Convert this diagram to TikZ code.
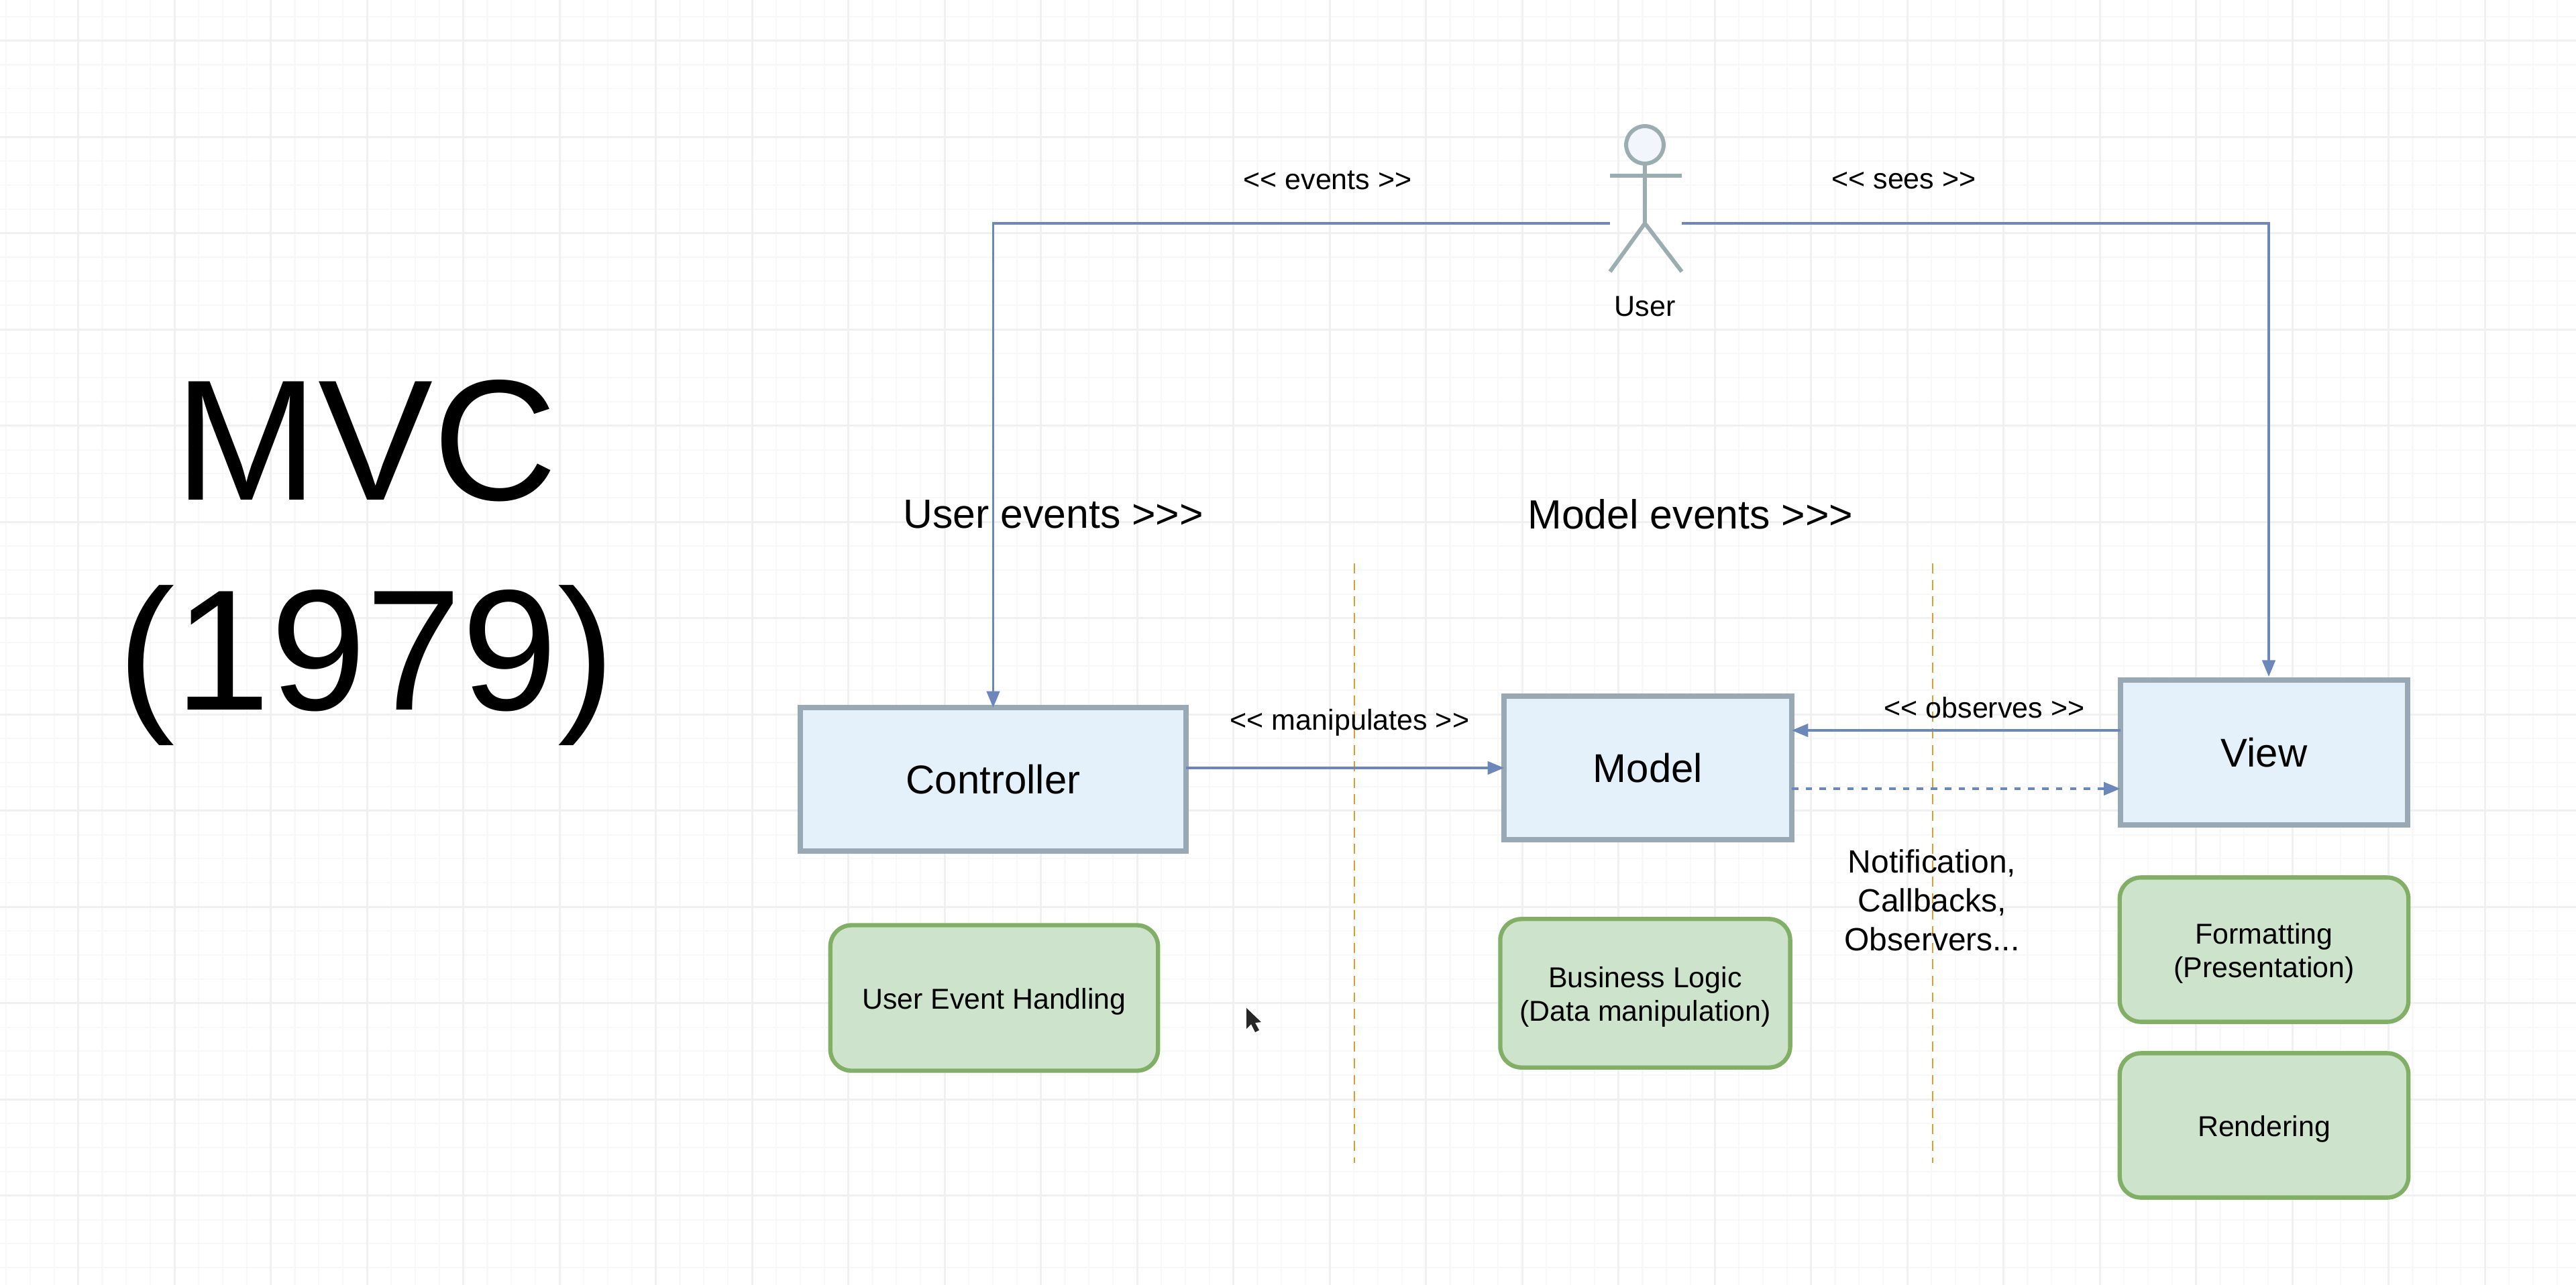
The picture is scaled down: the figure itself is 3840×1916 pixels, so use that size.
\documentclass[tikz,border=0pt]{standalone}
\usepackage{fontspec}
\setmainfont{Liberation Sans}
\usetikzlibrary{arrows.meta}
\definecolor{gridmajor}{HTML}{F0F0F0}
\definecolor{gridminor}{HTML}{F8F8F8}
\definecolor{boxfill}{HTML}{E4F0FA}
\definecolor{boxline}{HTML}{98A9B5}
\definecolor{notefill}{HTML}{CDE3CB}
\definecolor{noteline}{HTML}{82AF66}
\definecolor{flow}{HTML}{6C88BA}
\definecolor{actor}{HTML}{9AADB0}
\definecolor{actorfill}{HTML}{F2F5FB}
\definecolor{layer}{HTML}{D4A233}
% One unit is one pixel of the 3840 x 1916 canvas (0.02cm = 0.569pt), y grows downward.
\tikzset{
  x=0.02cm, y=-0.02cm,
  classbox/.style={draw=boxline, fill=boxfill, line width=4.5pt, outer sep=0pt, inner sep=0pt,
    font=\fontsize{34.1}{40}\selectfont},
  notetext/.style={inner sep=0pt, outer sep=0pt, yshift=-3pt, align=center,
    font=\fontsize{24.4}{28.5}\selectfont},
  notebox/.style={draw=noteline, fill=notefill, line width=3.6pt, rounded corners=18pt, outer sep=0pt,
    inner sep=0pt, label={[notetext]center:{#1}}},
  flowline/.style={draw=flow, line width=2.1pt, -{Triangle[length=14pt,width=11pt]}},
  flowdash/.style={flowline, dash pattern=on 5.5pt off 6.3pt},
  layerline/.style={draw=layer, line width=1.5pt, dash pattern=on 8.5pt off 5.5pt},
  stick/.style={draw=actor, line width=3.4pt},
  small/.style={inner sep=0pt, align=center, font=\fontsize{24.5}{29}\selectfont},
  heading/.style={inner sep=0pt, align=center, font=\fontsize{34.6}{40}\selectfont},
}
\begin{document}
\begin{tikzpicture}
\useasboundingbox (0,0) rectangle (3840,1916);
\fill[white] (0,0) rectangle (3840,1916);

% background grid: minor lines every quarter of a major cell
\foreach \k in {0,...,107} {
  \draw[gridminor, line width=1.2pt] ({9+35.875*\k},0) -- ({9+35.875*\k},1916);
}
\foreach \k in {0,...,53} {
  \draw[gridminor, line width=1.2pt] (0,{24.8+35.875*\k}) -- (3840,{24.8+35.875*\k});
}
\foreach \k in {0,...,26} {
  \draw[gridmajor, line width=1.5pt] ({116.7+143.5*\k},0) -- ({116.7+143.5*\k},1916);
}
\foreach \k in {0,...,13} {
  \draw[gridmajor, line width=1.5pt] (0,{60.7+143.5*\k}) -- (3840,{60.7+143.5*\k});
}

% layer separators
\coordinate (sepAtop) at (2019,840);
\coordinate (sepAbot) at (2019,1734);
\coordinate (sepBtop) at (2881,840);
\coordinate (sepBbot) at (2881,1734);
\draw[layerline] (sepAtop) -- (sepAbot);
\draw[layerline] (sepBtop) -- (sepBbot);

% classes
\node[classbox, minimum width=327pt, minimum height=121.6pt] (controller) at (1480.5,1162) {Controller};
\node[classbox, minimum width=244pt, minimum height=122pt] (model) at (2456.5,1145) {Model};
\node[classbox, minimum width=244pt, minimum height=122.5pt] (view) at (3375,1122) {View};

% responsibilities
\node[notebox={User Event Handling}, minimum width=278pt, minimum height=123.5pt] (handling) at (1482,1488) {};
\node[notebox={Business Logic\\(Data manipulation)}, minimum width=246pt, minimum height=126pt] (logic) at (2452.5,1481) {};
\node[notebox={Formatting\\(Presentation)}, minimum width=245pt, minimum height=122.5pt] (format) at (3375,1416) {};
\node[notebox={Rendering}, minimum width=245pt, minimum height=122.5pt] (render) at (3375,1678) {};

% the user as a stick figure
\node[stick, circle, fill=actorfill, minimum size=31.8pt, inner sep=0pt, outer sep=0pt] (head) at (2452,216) {};
\coordinate (hip) at (2452,333);
\coordinate (armL) at (2400,262);
\coordinate (armR) at (2507,262);
\coordinate (footL) at (2400,405);
\coordinate (footR) at (2507,405);
\draw[stick] (head.south) -- (hip);
\draw[stick] (armL) -- (armR);
\draw[stick] (footL) -- (hip) -- (footR);
\node[small] (userlabel) at (2452,457) {User};

% connectors
\coordinate (eventsOut) at (2400,333);
\coordinate (seesOut) at (2507,333);
\coordinate (viewIn) at (3382,1009);
\coordinate (observesY) at (3000,1089);
\coordinate (notifyY) at (3000,1176);
\draw[flowline] (eventsOut) -| (controller.north);
\draw[flowline] (seesOut) -| (viewIn);
\draw[flowline] (controller.east |- model.west) -- (model.west);
\draw[flowline] (view.west |- observesY) -- (model.east |- observesY);
\draw[flowdash] (model.east |- notifyY) -- (view.west |- notifyY);

% connector labels
\node[small] (lblevents) at (1979,269) {<{}< events >{}>};
\node[small] (lblsees) at (2838,269) {<{}< sees >{}>};
\node[small] (lblmanip) at (2012,1077) {<{}< manipulates >{}>};
\node[small] (lblobs) at (2958,1055) {<{}< observes >{}>};

% headings
\node[heading] (userevents) at (1570,767) {User events >{}>{}>};
\node[heading] (modelevents) at (2520,767) {Model events >{}>{}>};
\node[inner sep=0pt, align=center, font=\fontsize{27.3}{33}\selectfont] (notify) at (2880,1342) {Notification,\\Callbacks,\\Observers...};
\node[inner sep=0pt, align=center, font=\fontsize{146}{178}\selectfont] (title) at (546,839) {MVC\\(1979)};

% mouse pointer
\fill[black!85] (1858,1503) -- (1858,1534) -- (1865,1527) -- (1871,1539) -- (1877,1536) -- (1871,1525) -- (1880,1524) -- cycle;
\end{tikzpicture}
\end{document}
